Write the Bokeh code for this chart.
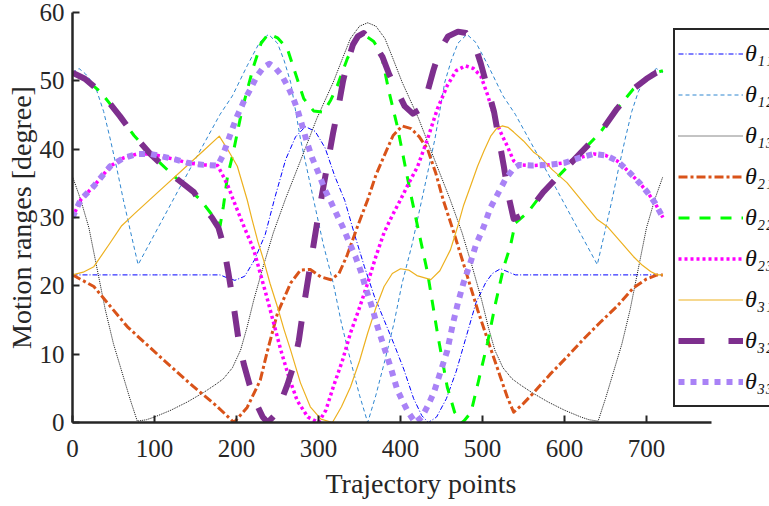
from bokeh.plotting import figure
from bokeh.models import Range1d, FixedTicker, Legend, LegendItem
from bokeh.embed import file_html
from bokeh.resources import INLINE

# ---------------- data ----------------
x_ticks = [0, 100, 200, 300, 400, 500, 600, 700]
y_ticks = [0, 10, 20, 30, 40, 50, 60]

x11 = [0, 100, 180, 188, 198, 210, 222, 235, 247, 260, 272, 284, 296, 308, 320, 332, 344, 356, 368, 380,
       392, 404, 416, 426, 434, 444, 456, 468, 480, 492, 504, 512, 522, 532, 540, 620, 720]
y11 = [21.6, 21.6, 21.6, 21.2, 20.8, 21.4, 23.8, 27.5, 33.0, 38.5, 41.8, 43.3, 42.6, 40.2, 36.0, 32.5, 27.5, 22.8, 18.5, 15.0,
       11.5, 7.8, 3.5, 1.0, 0.0, 0.8, 3.5, 7.5, 12.5, 17.5, 20.5, 21.8, 22.5, 22.0, 21.6, 21.6, 21.6]

x12 = [0, 8, 16, 24, 30, 38, 46, 54, 62, 71, 80, 130, 180, 195, 213, 228, 239, 250, 258, 266, 278, 294, 306, 318, 328, 339, 350, 360,
       370, 381, 392, 402, 414, 426, 442, 454, 462, 470, 481, 492, 507, 525, 540, 590, 640, 649, 658, 666, 674, 682, 690, 696, 704, 712, 720]
y12 = [51.2, 51.8, 51.0, 49.8, 48.4, 45.5, 41.5, 37.2, 32.6, 27.8, 23.1, 34.2, 45.1, 47.8, 52.2, 55.6, 56.8, 55.5, 53.0, 49.8, 41.5, 32.6, 26.0, 20.4, 14.5, 9.1, 4.0, 0.0,
       4.0, 9.1, 14.5, 20.4, 26.0, 32.6, 41.5, 49.8, 53.0, 55.5, 56.8, 55.6, 52.2, 47.8, 45.1, 34.2, 23.1, 27.8, 32.6, 37.2, 41.5, 45.5, 48.4, 49.8, 51.0, 51.8, 51.2]

x13 = [0, 10, 20, 30, 40, 50, 60, 70, 79, 90, 100, 120, 140, 160, 175, 184, 195, 205, 213, 221, 233, 245, 260, 278, 298, 318, 330, 339, 350, 360,
       370, 381, 390, 402, 422, 442, 460, 475, 487, 499, 507, 515, 525, 536, 545, 560, 580, 600, 620, 630, 641, 650, 660, 670, 680, 690, 700, 710, 720]
y13 = [36.0, 32.6, 28.5, 22.5, 16.5, 11.5, 7.5, 3.5, 0.2, 0.4, 0.8, 1.8, 3.0, 4.4, 5.6, 6.4, 8.0, 10.6, 14.0, 17.9, 23.0, 27.8, 32.8, 38.3, 44.5, 49.8, 53.5, 56.2, 58.0, 58.5,
       58.0, 56.2, 53.5, 49.8, 44.5, 38.3, 32.8, 27.8, 23.0, 17.9, 14.0, 10.6, 8.0, 6.4, 5.6, 4.4, 3.0, 1.8, 0.8, 0.4, 0.2, 3.5, 7.5, 11.5, 16.5, 22.5, 28.5, 32.6, 36.0]

x21 = [0, 26, 67, 107, 148, 175, 197, 213, 229, 238, 250, 266, 278, 290, 303, 315, 325, 335, 347, 360, 370, 380, 391, 402, 413, 423, 433, 443, 452,
       465, 480, 494, 508, 522, 530, 538, 550, 562, 582, 603, 624, 644, 664, 684, 700, 713, 720]
y21 = [21.6, 19.9, 14.0, 9.6, 5.2, 2.5, 0.0, 2.2, 6.2, 10.6, 16.0, 20.4, 22.3, 22.4, 21.3, 20.9, 21.8, 24.5, 28.5, 32.6, 36.2, 39.0, 42.0, 43.4, 43.0, 41.8, 40.0, 36.5, 32.6,
       27.8, 22.0, 16.5, 11.5, 6.6, 3.8, 1.5, 2.8, 4.3, 7.0, 9.6, 12.3, 14.7, 17.0, 19.7, 21.0, 21.6, 21.6]

x22 = [0, 15, 34, 58, 75, 95, 128, 156, 172, 180, 184, 189, 196, 207, 221, 230, 239, 250, 262, 274, 282, 294, 306, 315, 323, 335, 346, 357, 367,
       376, 386, 396, 412, 423, 433, 445, 457, 466, 476, 486, 495, 506, 516, 526, 534, 540, 555, 574, 597, 620, 644, 664, 684, 700, 712, 720]
y22 = [51.2, 50.3, 48.4, 44.8, 42.0, 39.3, 35.6, 32.6, 30.1, 28.8, 31.6, 36.0, 39.5, 45.9, 52.2, 55.5, 56.9, 56.3, 54.7, 50.3, 47.4, 45.6, 45.4, 47.2, 49.3, 53.2, 56.0, 56.6, 55.8,
       54.2, 48.4, 43.4, 33.7, 27.5, 21.9, 13.1, 5.2, 1.5, 0.0, 1.5, 6.0, 11.6, 17.5, 22.8, 25.8, 29.2, 30.7, 33.7, 36.6, 39.5, 42.5, 45.9, 48.8, 50.3, 51.2, 51.5]

x23 = [0, 10, 26, 46, 62, 79, 95, 107, 125, 140, 160, 177, 184, 190, 196, 208, 221, 238, 254, 264, 274, 287, 300, 309, 318, 329, 339, 350, 360,
       370, 380, 390, 400, 410, 421, 433, 445, 457, 468, 479, 489, 498, 506, 514, 522, 530, 538, 545, 560, 580, 600, 620, 636, 650, 664, 674, 684, 692, 701, 710, 720]
y23 = [30.0, 32.6, 34.6, 37.5, 38.7, 39.3, 39.3, 39.0, 38.5, 38.0, 37.7, 37.6, 36.0, 34.5, 32.6, 29.0, 25.3, 17.9, 10.6, 6.6, 3.2, 0.8, 0.0, 1.8, 5.2, 9.0, 13.1, 16.8, 20.4,
       24.3, 27.8, 30.3, 32.6, 35.0, 37.5, 41.5, 45.9, 49.3, 51.5, 52.2, 51.8, 50.7, 48.0, 44.9, 42.5, 40.5, 38.3, 37.7, 37.6, 37.7, 38.0, 38.8, 39.3, 39.1, 38.3, 37.2, 36.0, 35.0, 33.7, 32.2, 30.0]

x31 = [0, 13, 26, 46, 60, 76, 107, 140, 160, 179, 190, 201, 213, 219, 226, 233, 241, 250, 258, 266, 278, 290, 303, 317, 328, 339, 350, 360,
       370, 380, 390, 400, 410, 420, 437, 448, 461, 470, 477, 486, 494, 502, 510, 517, 524, 531, 538, 550, 562, 571, 585, 603, 620, 640, 652, 668, 684, 695, 705, 713, 720]
y31 = [21.6, 22.0, 22.8, 26.3, 28.8, 30.6, 34.0, 37.6, 39.8, 41.9, 39.8, 37.5, 32.6, 29.7, 26.5, 23.8, 20.3, 16.9, 13.6, 10.6, 5.8, 2.3, 0.5, 0.0, 2.3, 5.2, 9.0, 13.1,
       16.8, 19.9, 21.8, 22.5, 22.3, 21.5, 20.9, 22.2, 25.3, 28.8, 31.8, 34.8, 37.5, 39.8, 41.9, 43.0, 43.4, 43.2, 42.5, 41.2, 39.6, 38.8, 37.0, 35.1, 32.6, 29.7, 28.7, 26.5, 24.3, 23.0, 22.1, 21.6, 21.6]

x32 = [0, 15, 34, 58, 75, 95, 128, 148, 160, 170, 178, 184, 190, 196, 202, 209, 216, 224, 232, 238, 246, 254, 262, 270, 276, 282, 288, 294, 300,
       306, 312, 318, 324, 330, 336, 342, 348, 355, 362, 370, 378, 386, 396, 405, 415, 424, 432, 440, 448, 458, 470, 480, 490, 498, 506, 514,
       520, 526, 532, 538, 546, 555, 574, 597, 620, 644, 664, 684, 700, 712, 720]
y32 = [51.2, 50.3, 48.4, 44.8, 42.0, 39.3, 35.6, 33.7, 31.5, 30.0, 28.5, 26.0, 22.0, 17.5, 12.5, 8.5, 5.5, 2.8, 0.8, 0.0, 1.0, 3.0, 5.5, 8.5, 12.0, 17.0, 21.5, 26.0, 30.5,
       34.5, 38.5, 42.5, 46.0, 50.0, 53.0, 55.3, 56.5, 57.0, 56.2, 55.0, 53.5, 51.0, 48.5, 46.3, 45.2, 45.8, 48.0, 51.5, 54.5, 56.5, 57.2, 57.0, 55.5, 52.5, 49.0, 45.5,
       41.5, 37.5, 33.0, 29.8, 30.2, 30.7, 33.7, 36.6, 39.5, 42.5, 45.9, 48.8, 50.3, 51.2, 51.5]

x33 = [0, 10, 26, 46, 62, 79, 95, 107, 125, 140, 160, 177, 183, 189, 195, 201, 209, 217, 225, 233, 240, 248, 255, 262, 268, 274, 280, 286, 292,
       300, 308, 315, 322, 330, 338, 345, 352, 358, 365, 372, 380, 388, 396, 403, 410, 418, 426, 434, 441, 449, 457, 464, 470, 477, 485, 492,
       501, 510, 518, 528, 538, 545, 560, 580, 600, 620, 636, 650, 664, 674, 684, 692, 701, 710, 720]
y33 = [30.0, 32.6, 34.6, 37.5, 38.7, 39.3, 39.3, 39.0, 38.5, 38.0, 37.7, 37.6, 39.0, 41.0, 43.0, 44.9, 47.0, 48.8, 50.7, 52.0, 52.5, 51.8, 50.8, 49.3, 47.8, 45.9, 43.5, 41.0, 38.8,
       36.5, 34.0, 32.3, 30.5, 28.5, 26.2, 24.3, 22.0, 19.5, 17.0, 14.0, 11.0, 8.1, 4.8, 3.0, 1.4, 0.0, 0.8, 2.6, 4.5, 7.5, 10.5, 14.5, 17.5, 20.5, 23.3, 26.0,
       28.5, 31.5, 33.3, 35.6, 37.2, 37.7, 37.6, 37.7, 38.0, 38.8, 39.3, 39.1, 38.3, 37.2, 36.0, 35.0, 33.7, 32.2, 30.0]

labels = ["θ₁₁", "θ₁₂", "θ₁₃", "θ₂₁", "θ₂₂", "θ₂₃", "θ₃₁", "θ₃₂", "θ₃₃"]

# ---------------- styles ----------------
series = [
    (x11, y11, "#0000FF", 1.0, "5 2 1 2"),
    (x12, y12, "#2E86D0", 1.0, "4 3"),
    (x13, y13, "#111111", 1.0, "1 1"),
    (x21, y21, "#D95319", 3.0, "9 3 3 3"),
    (x22, y22, "#00FF00", 3.0, "11 10"),
    (x23, y23, "#FF00FF", 3.5, "3 3"),
    (x31, y31, "#EDB120", 1.2, "solid"),
    (x32, y32, "#7E2F8E", 6.0, "26 24"),
    (x33, y33, "#A982F6", 6.0, "6 6"),
]

FONT = "Liberation Serif"
AX = "#262626"

p = figure(width=769, height=506, x_range=Range1d(0, 850), y_range=Range1d(0, 60),
           output_backend="svg", toolbar_location=None,
           min_border_left=72, min_border_right=0, min_border_top=12, min_border_bottom=84)
p.outline_line_color = None
p.xgrid.visible = False
p.ygrid.visible = False
p.background_fill_color = "white"
p.border_fill_color = "white"

items = []
for (xs, ys, col, w, dash), lab in zip(series, labels):
    r = p.line(xs, ys, line_color=col, line_width=w, line_dash=dash, line_join="round")
    items.append(LegendItem(label=lab, renderers=[r]))

for ax in (p.xaxis[0], p.yaxis[0]):
    ax.axis_line_color = AX
    ax.axis_line_width = 2.5
    ax.major_tick_line_color = AX
    ax.major_tick_line_width = 2
    ax.major_tick_in = 7
    ax.major_tick_out = 0
    ax.minor_tick_line_color = None
    ax.major_label_text_font = FONT
    ax.major_label_text_font_size = "25px"
    ax.major_label_text_color = AX
    ax.axis_label_text_font = FONT
    ax.axis_label_text_font_size = "28px"
    ax.axis_label_text_font_style = "normal"
    ax.axis_label_text_color = AX

p.xaxis.ticker = FixedTicker(ticks=x_ticks)
p.yaxis.ticker = FixedTicker(ticks=y_ticks)
p.xaxis.bounds = (0, 779)
p.yaxis.bounds = (0, 60)
p.xaxis.axis_label = "Trajectory points"
p.yaxis.axis_label = "Motion ranges [degree]"
p.xaxis.major_label_standoff = 17
p.yaxis.major_label_standoff = 8
p.xaxis.axis_label_standoff = 8
p.yaxis.axis_label_standoff = 0

legend = Legend(items=items, location=(601, 15), orientation="vertical",
                glyph_width=65, glyph_height=41, label_height=41, label_width=60,
                spacing=0, padding=3, margin=0, label_standoff=2,
                label_text_font=FONT, label_text_font_size="24px", label_text_font_style="italic",
                label_text_color="#111111",
                border_line_color=AX, border_line_width=2.5, border_line_alpha=1.0,
                background_fill_color="white", background_fill_alpha=1.0)
p.add_layout(legend)

open("out.html", "w").write(file_html(p, INLINE))
